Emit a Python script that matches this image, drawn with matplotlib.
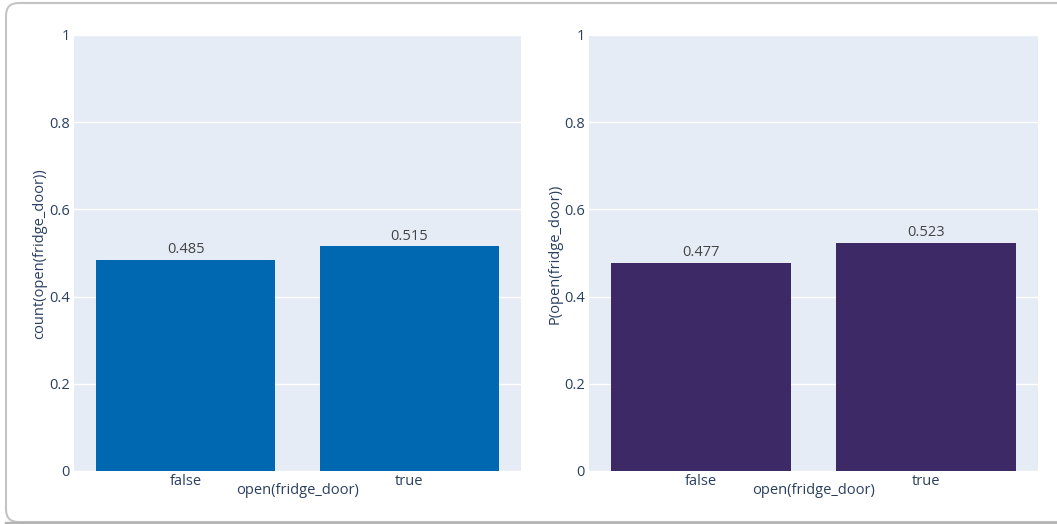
import matplotlib
matplotlib.use("Agg")
import matplotlib.pyplot as plt
from matplotlib.patches import FancyBboxPatch

plt.rcParams["font.family"] = ["Open Sans", "DejaVu Sans"]

categories = ["false", "true"]
count_values = [0.485, 0.515]
prob_values = [0.477, 0.523]
y_ticks = [0, 0.2, 0.4, 0.6, 0.8, 1]
y_tick_labels = ["0", "0.2", "0.4", "0.6", "0.8", "1"]

W, H = 1057, 524
fig = plt.figure(figsize=(W / 100, H / 100), dpi=100)
fig.patch.set_facecolor("white")

# card frame around both panels
frame = FancyBboxPatch((6 / W, 2 / H), 1.2, (519 / H), boxstyle="round,pad=0,rounding_size=0.012",
                       transform=fig.transFigure, facecolor="none", edgecolor="#c4c4c4",
                       linewidth=1.5, mutation_aspect=W / H)
fig.add_artist(frame)
fig.add_artist(plt.Line2D([6 / W, 1], [1.5 / H, 1.5 / H], transform=fig.transFigure,
                          color="#b4b4b4", linewidth=2.5))

text_color = "#2a3f5f"
bg = "#e5ecf6"


def panel(left_px, right_px, values, color, ylabel, ylabel_x):
    top_px, bottom_px = 35, 471
    ax = fig.add_axes([left_px / W, 1 - bottom_px / H, (right_px - left_px) / W,
                       (bottom_px - top_px) / H])
    ax.set_facecolor(bg)
    ax.set_xlim(-0.5, 1.5)
    ax.set_ylim(0, 1)
    for s in ax.spines.values():
        s.set_visible(False)
    ax.set_yticks(y_ticks)
    ax.set_yticklabels(y_tick_labels)
    ax.yaxis.grid(True, color="white", linewidth=1)
    ax.set_axisbelow(True)
    ax.tick_params(axis="both", length=0, labelsize=10.5, labelcolor=text_color, pad=3)
    ax.tick_params(axis="x", pad=2)
    x = range(len(categories))
    bars = ax.bar(x, values, width=0.8, color=color, zorder=2)
    ax.set_xticks(list(x))
    ax.set_xticklabels(categories)
    for b, v in zip(bars, values):
        ax.text(b.get_x() + b.get_width() / 2, v + 0.006, f"{v:.3f}", ha="center", va="bottom",
                fontsize=10.5, color="#444444")
    ax.set_xlabel("open(fridge_door)", fontsize=10.5, color=text_color, labelpad=-4)
    fig.text(ylabel_x / W, 1 - 254 / H, ylabel, rotation=90, ha="center", va="center",
             fontsize=10.5, color=text_color)
    return ax


panel(74, 521, count_values, "#0067b1", "count(open(fridge_door))", 40)
panel(589, 1038, prob_values, "#3c2966", "P(open(fridge_door))", 555)

fig.savefig("out.png", dpi=100)
